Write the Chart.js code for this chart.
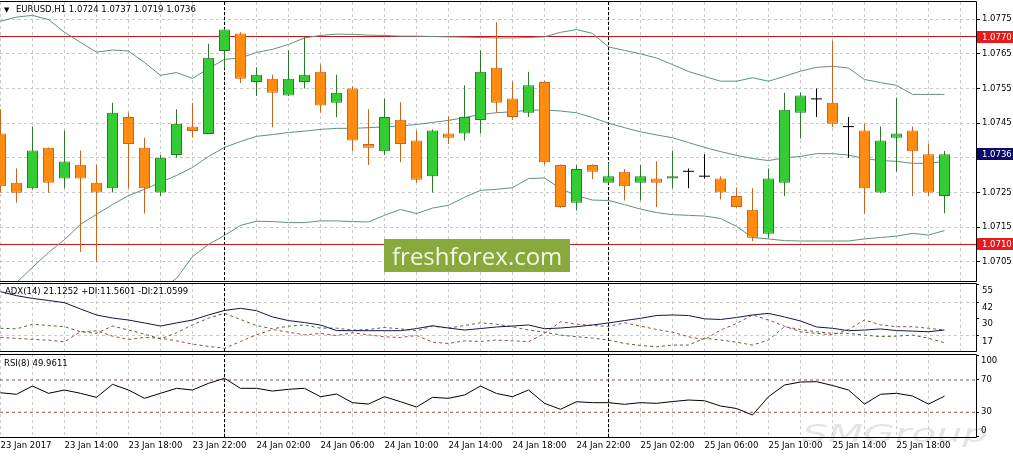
<!DOCTYPE html>
<html>
<head>
<meta charset="utf-8">
<script src="https://cdn.jsdelivr.net/npm/chart.js@4.4.1/dist/chart.umd.min.js"></script>
<style>
  html, body { margin: 0; padding: 0; background: #fff; }
  #wrap { position: relative; width: 1013px; height: 457px; overflow: hidden; background: #fff; }
  canvas { position: absolute; left: 0; }
</style>
</head>
<body>
<div id="wrap">
  <canvas id="priceChart" width="1013" height="282" style="top:0px"></canvas>
  <canvas id="adxChart" width="1013" height="69" style="top:283px"></canvas>
  <canvas id="rsiChart" width="1013" height="103" style="top:354px"></canvas>
</div>
<script>
// EURUSD H1, 23 Jan 10:00 .. 25 Jan 21:00 (one entry per bar)
const open = [1.0742, 1.07278, 1.07262, 1.07379, 1.0729, 1.0733, 1.07278, 1.07262, 1.07468, 1.07379,
  1.0725, 1.07358, 1.0744, 1.07419, 1.07658, 1.07709, 1.07569, 1.07578, 1.0753, 1.07569,
  1.07598, 1.07509, 1.0755, 1.0739, 1.07369, 1.0746, 1.074, 1.07297, 1.0742, 1.0742,
  1.07459, 1.0761, 1.07521, 1.0748, 1.07569, 1.07329, 1.0722, 1.07329, 1.07278, 1.0731,
  1.07278, 1.0729, 1.0729, 1.07311, 1.07297, 1.0729, 1.0724, 1.072, 1.07131, 1.07278,
  1.0748, 1.0752, 1.07509, 1.0744, 1.07429, 1.0725, 1.07408, 1.07429, 1.0736, 1.0724];
const high = [1.0749, 1.07319, 1.0744, 1.0738, 1.07429, 1.07371, 1.0733, 1.07509, 1.0748, 1.07408,
  1.07358, 1.0749, 1.07509, 1.07679, 1.07722, 1.07712, 1.07611, 1.0759, 1.0766, 1.077,
  1.07619, 1.0759, 1.07557, 1.0749, 1.07521, 1.0751, 1.07429, 1.07432, 1.0747, 1.07559,
  1.0766, 1.07741, 1.07571, 1.07598, 1.07572, 1.07331, 1.07329, 1.07331, 1.07336, 1.07318,
  1.07329, 1.0734, 1.07371, 1.07319, 1.0736, 1.07297, 1.07264, 1.07262, 1.07319, 1.07538,
  1.07538, 1.0755, 1.07688, 1.07468, 1.07448, 1.0744, 1.07523, 1.0744, 1.07391, 1.0737];
const low = [1.0725, 1.0722, 1.07259, 1.07249, 1.07262, 1.07079, 1.0705, 1.0725, 1.07262, 1.07189,
  1.0724, 1.0735, 1.07408, 1.07419, 1.07608, 1.07566, 1.07528, 1.07438, 1.07528, 1.0755,
  1.0748, 1.07467, 1.07369, 1.07329, 1.07358, 1.07337, 1.07278, 1.0725, 1.0739, 1.074,
  1.0742, 1.0748, 1.0746, 1.07468, 1.0733, 1.07206, 1.07198, 1.07288, 1.07276, 1.07227,
  1.07227, 1.07208, 1.07262, 1.07262, 1.0729, 1.0723, 1.07206, 1.0711, 1.07119, 1.0724,
  1.07406, 1.07468, 1.07438, 1.0735, 1.07189, 1.07248, 1.0731, 1.0724, 1.0724, 1.0719];
const close = [1.07268, 1.07249, 1.07371, 1.07278, 1.07339, 1.0729, 1.0725, 1.0748, 1.0739, 1.07262,
  1.0735, 1.07448, 1.07427, 1.07639, 1.0772, 1.07578, 1.0759, 1.07538, 1.07578, 1.0759,
  1.07501, 1.07538, 1.074, 1.07379, 1.07468, 1.0739, 1.07287, 1.07429, 1.07408, 1.07468,
  1.07598, 1.07509, 1.07468, 1.07559, 1.07337, 1.07208, 1.07318, 1.0731, 1.07297, 1.07268,
  1.07297, 1.07278, 1.07297, 1.07311, 1.07297, 1.0725, 1.07208, 1.07119, 1.0729, 1.07489,
  1.0753, 1.0752, 1.07448, 1.0744, 1.07262, 1.074, 1.0742, 1.07369, 1.0725, 1.0736];

const bbUpper = [1.07744, 1.07756, 1.07761, 1.07749, 1.07712, 1.07683, 1.07655, 1.07661, 1.07658, 1.07625,
  1.07588, 1.07596, 1.07579, 1.07608, 1.07634, 1.07638, 1.07654, 1.07663, 1.07677, 1.07696,
  1.07703, 1.07707, 1.07706, 1.07704, 1.07703, 1.07701, 1.07701, 1.077, 1.07699, 1.07698,
  1.07697, 1.07696, 1.07696, 1.07697, 1.07699, 1.07712, 1.0772, 1.07709, 1.0767, 1.0766,
  1.0765, 1.07638, 1.07619, 1.07599, 1.07585, 1.07571, 1.07571, 1.07581, 1.07571, 1.07585,
  1.076, 1.07611, 1.07614, 1.07609, 1.07576, 1.07567, 1.07559, 1.07533, 1.07533, 1.07533];
const bbMiddle = [1.06956, 1.0699, 1.07034, 1.07077, 1.07114, 1.07158, 1.07187, 1.07215, 1.07241, 1.07259,
  1.07279, 1.07299, 1.07322, 1.07354, 1.0738, 1.07397, 1.07412, 1.07417, 1.07423, 1.07427,
  1.07432, 1.07435, 1.07435, 1.07437, 1.07439, 1.07442, 1.07446, 1.07452, 1.07458, 1.07466,
  1.07475, 1.0748, 1.07483, 1.07487, 1.07488, 1.07485, 1.0748, 1.07466, 1.0745, 1.07437,
  1.07425, 1.07416, 1.07408, 1.07394, 1.0738, 1.07368, 1.07357, 1.07348, 1.07342, 1.0735,
  1.07354, 1.07362, 1.07362, 1.07358, 1.07348, 1.07342, 1.0734, 1.07334, 1.07334, 1.0734];
const bbLower = [1.06168, 1.06224, 1.06307, 1.06405, 1.06517, 1.06633, 1.06718, 1.0677, 1.06826, 1.06892,
  1.0697, 1.07002, 1.07065, 1.071, 1.07126, 1.07155, 1.07167, 1.07166, 1.07163, 1.07163,
  1.07168, 1.07168, 1.07166, 1.07165, 1.07184, 1.07201, 1.07189, 1.07205, 1.07213, 1.07236,
  1.07256, 1.07259, 1.07264, 1.0729, 1.07292, 1.07261, 1.07241, 1.07228, 1.07227, 1.07215,
  1.07202, 1.07192, 1.07186, 1.07184, 1.07182, 1.07175, 1.07152, 1.0712, 1.07116, 1.07111,
  1.0711, 1.0711, 1.0711, 1.0711, 1.07116, 1.0712, 1.07124, 1.07132, 1.07127, 1.0714];

const adx = [49.9, 46.9, 44.8, 43.3, 41.6, 36.9, 32.4, 30.1, 28.6, 26.4,
  24.1, 26.4, 28.6, 32.4, 35.8, 37.4, 35.6, 30.9, 28.2, 26.7,
  24.9, 20.7, 20.6, 20.6, 20.6, 20.6, 22.2, 24.3, 22.6, 21.1,
  22.2, 23.4, 24.1, 24.9, 22.1, 22.6, 23.6, 24.9, 26.4, 28.2,
  29.9, 32.0, 32.4, 32.0, 29.5, 29.0, 30.5, 32.4, 33.6, 30.9,
  27.9, 23.4, 22.4, 20.6, 21.1, 21.9, 20.7, 20.3, 19.8, 21.1252];
const plusDI = [22.4, 22.0, 25.4, 24.5, 23.6, 19.8, 18.6, 24.1, 21.1, 18.0,
  14.5, 19.0, 25.0, 30.0, 33.6, 29.0, 24.5, 22.0, 24.0, 24.9,
  22.5, 22.5, 21.0, 21.5, 23.0, 22.0, 20.5, 24.0, 22.5, 24.5,
  26.5, 25.5, 23.5, 21.1, 19.5, 17.3, 16.1, 15.0, 13.6, 11.0,
  9.5, 8.5, 9.8, 9.8, 14.9, 13.6, 12.0, 9.8, 13.6, 23.6,
  21.5, 19.8, 18.6, 18.6, 17.3, 16.1, 16.5, 17.3, 14.9, 11.5601];
const minusDI = [15.6, 14.8, 14.1, 13.5, 12.3, 19.8, 20.5, 16.5, 14.0, 15.5,
  15.0, 13.0, 10.5, 8.8, 7.4, 12.5, 17.5, 21.5, 19.5, 17.5,
  18.5, 17.0, 19.0, 17.5, 16.0, 15.5, 17.0, 12.0, 11.0, 13.0,
  12.5, 13.6, 13.0, 12.3, 18.6, 27.3, 25.5, 24.5, 23.8, 26.5,
  24.0, 21.5, 19.5, 16.0, 14.0, 21.0, 26.0, 32.4, 28.6, 24.0,
  19.8, 18.6, 17.5, 21.5, 28.6, 25.0, 23.6, 23.6, 22.4, 21.0599];
const rsi = [54.2, 52.3, 62.5, 53.5, 57.6, 53.5, 48.5, 64.6, 57.6, 47.3,
  53.5, 59.7, 57.6, 65.9, 72.1, 59.7, 59.7, 56.3, 58.5, 59.7,
  49.3, 52.6, 41.9, 40.2, 49.3, 43.1, 36.5, 48.5, 47.3, 51.4,
  62.5, 53.3, 49.3, 57.6, 41.1, 33.7, 43.1, 41.9, 41.9, 39.9,
  41.9, 41.1, 43.3, 45.2, 44.3, 37.8, 34.7, 26.6, 49.3, 63.8,
  67.5, 67.9, 63.2, 57.6, 40.2, 52.3, 53.5, 50.2, 40.2, 49.9611];

// one time label every 4 bars
const timeLabels = ['23 Jan 2017', '23 Jan 14:00', '23 Jan 18:00', '23 Jan 22:00', '24 Jan 02:00',
  '24 Jan 06:00', '24 Jan 10:00', '24 Jan 14:00', '24 Jan 18:00', '24 Jan 22:00',
  '25 Jan 02:00', '25 Jan 06:00', '25 Jan 10:00', '25 Jan 14:00', '25 Jan 18:00'];
const priceTicks = [1.0705, 1.0715, 1.0725, 1.0735, 1.0745, 1.0755, 1.0765, 1.0775];
const levelLines = [1.0770, 1.0710];
const adxTicks = [55, 42, 30, 17];
const adxGridLevels = [42, 17];
const rsiTicks = [100, 70, 30, 0];
const rsiLevels = [70, 30];
const daySeparators = [14, 38]; // first bar of 24 Jan and 25 Jan

const FONT = '"DejaVu Sans", sans-serif';
const gridGray = '#c8c8c8';
const gridDash = [3, 3];
const bullFill = '#33cc33', bullLine = '#2a7a2a';
const bearFill = '#ff8c10', bearLine = '#c8641e';
const bandColor = '#5f9085';
const levelRed = '#c81414';

const bars = open.map((_, i) => i);
const gridBars = [];
for (let i = 0; i <= 60; i += 2) gridBars.push(i);
const xMin = -1 / 32, xMax = 61 - 1 / 32;
const last = bars.length - 1;

function xAxis(showLabels) {
  return {
    type: 'linear', min: xMin, max: xMax, offset: false,
    afterBuildTicks: s => { s.ticks = gridBars.map(v => ({ value: v })); },
    afterFit: s => { s.height = showLabels ? 20 : 0; s.paddingLeft = 0; s.paddingRight = 0; },
    grid: { color: gridGray, drawTicks: false, offset: false },
    border: { display: false, dash: gridDash },
    ticks: showLabels ? {
      autoSkip: false, maxRotation: 0, align: 'start', padding: 4, color: '#000',
      font: { family: FONT, size: 8.5 },
      callback: v => (v % 4 === 0 ? timeLabels[v / 4] : '')
    } : { display: false }
  };
}

function yAxisFit(s) { s.width = 37; s.paddingTop = 0; s.paddingBottom = 0; }

function series(values, color, dash) {
  return {
    type: 'line', data: values.map((v, i) => ({ x: i, y: v })),
    borderColor: color, borderWidth: 1, borderDash: dash || [],
    pointRadius: 0, pointHoverRadius: 0, tension: 0, fill: false, order: 3
  };
}

function hLine(value, color, dash) {
  return {
    type: 'line', data: [{ x: xMin, y: value }, { x: xMax, y: value }],
    borderColor: color, borderWidth: 1, borderDash: dash || [],
    pointRadius: 0, pointHoverRadius: 0, fill: false, order: 5
  };
}

function frame(chart) {
  const { ctx, chartArea: a } = chart;
  const top = Math.max(a.top - 0.5, 0.5);
  const bottom = Math.min(a.bottom + 0.5, chart.height - 0.5);
  ctx.save();
  ctx.strokeStyle = '#000';
  ctx.lineWidth = 1;
  ctx.beginPath();
  ctx.moveTo(0, top); ctx.lineTo(a.right + 0.5, top);
  ctx.lineTo(a.right + 0.5, bottom); ctx.lineTo(0, bottom);
  ctx.stroke();
  ctx.restore();
}

const separators = {
  id: 'separators',
  beforeDatasetsDraw(chart) {
    const { ctx, chartArea: a, scales: { x } } = chart;
    ctx.save();
    ctx.strokeStyle = '#000';
    ctx.lineWidth = 1;
    ctx.setLineDash([3, 2]);
    daySeparators.forEach(d => {
      const px = Math.round(x.getPixelForValue(d) - 0.5) + 0.5;
      ctx.beginPath(); ctx.moveTo(px, a.top); ctx.lineTo(px, a.bottom); ctx.stroke();
    });
    ctx.restore();
  }
};

const common = {
  responsive: false, animation: false, events: [],
  plugins: { legend: { display: false }, tooltip: { enabled: false } }
};

// ---------- price window ----------
const bodyBars = bars.filter(i => open[i] !== close[i]);
const dojiBars = bars.filter(i => open[i] === close[i]);
const boxValues = [...levelLines, close[last]];
const halfPx = 0.5 / 34658; // keeps the level lines on whole pixel rows

new Chart(document.getElementById('priceChart'), {
  type: 'line',
  data: {
    datasets: [
      {
        type: 'bar', data: bodyBars.map(i => ({ x: i, y: [open[i], close[i]] })),
        backgroundColor: bodyBars.map(i => close[i] > open[i] ? bullFill : bearFill),
        borderColor: bodyBars.map(i => close[i] > open[i] ? bullLine : bearLine),
        borderWidth: 1, borderSkipped: false, barThickness: 11, grouped: false, inflateAmount: 0, order: 1
      },
      {
        type: 'line', data: dojiBars.map(i => ({ x: i, y: close[i] })), showLine: false,
        pointStyle: 'line', pointRadius: 5.5, pointHoverRadius: 5.5, pointBorderColor: '#000', pointBorderWidth: 1, order: 1
      },
      {
        type: 'bar', data: bars.map(i => ({ x: i, y: [low[i], high[i]] })),
        backgroundColor: bars.map(i => open[i] === close[i] ? '#000' : close[i] > open[i] ? bullLine : bearLine),
        borderWidth: 0, barThickness: 1, grouped: false, inflateAmount: 0, order: 2
      },
      series(bbUpper, bandColor), series(bbMiddle, bandColor), series(bbLower, bandColor),
      ...levelLines.map(v => hLine(v, levelRed))
    ]
  },
  options: {
    ...common,
    layout: { autoPadding: false, padding: { top: 2, bottom: 1, left: 0, right: 0 } },
    scales: {
      x: xAxis(false),
      y: {
        position: 'right', min: 1.06996 - halfPx, max: 1.07801 - halfPx,
        afterBuildTicks: s => { s.ticks = priceTicks.map(v => ({ value: v })); },
        afterFit: yAxisFit,
        grid: { color: gridGray, tickColor: '#000', tickLength: 4 },
        border: { display: false, dash: gridDash },
        ticks: {
          color: '#000', padding: 2, font: { family: FONT, size: 8.5 },
          callback: v => boxValues.some(b => Math.abs(b - v) < 0.0003) ? '' : v.toFixed(4)
        }
      }
    }
  },
  plugins: [separators, {
    id: 'priceDecor',
    afterDraw(chart) {
      const { ctx, chartArea: a, scales: { y } } = chart;
      frame(chart);
      ctx.save();
      // price boxes on the axis
      ctx.font = '8.5px ' + FONT;
      ctx.textBaseline = 'middle';
      const box = (v, bg) => {
        const py = Math.round(y.getPixelForValue(v));
        ctx.fillStyle = bg;
        ctx.fillRect(a.right + 1, py - 6, chart.width - a.right - 1, 12);
        ctx.fillStyle = '#fff';
        ctx.fillText(v.toFixed(4), a.right + 6, py + 0.5);
      };
      levelLines.forEach(v => box(v, '#e41b1b'));
      box(close[last], '#0a0a6e');
      // header
      ctx.fillStyle = '#000';
      ctx.font = '7px ' + FONT;
      ctx.fillText('\u25BC', 4, 10);
      ctx.font = '8.5px ' + FONT;
      ctx.fillText('EURUSD,H1 ' + [open[last], high[last], low[last], close[last]].map(v => v.toFixed(4)).join(' '), 16, 10);
      // watermark
      ctx.fillStyle = '#89a93d';
      ctx.fillRect(384, 239, 186, 33);
      ctx.fillStyle = '#f2f7e8';
      ctx.font = '24px "Open Sans", sans-serif';
      ctx.textBaseline = 'alphabetic';
      ctx.fillText('freshforex.com', 392, 265);
      ctx.restore();
    }
  }]
});

// ---------- ADX window ----------
new Chart(document.getElementById('adxChart'), {
  type: 'line',
  data: {
    datasets: [
      series(adx, '#141450'),
      series(plusDI, '#4a6a3a', [3, 3]),
      series(minusDI, '#9a4a3a', [3, 3])
    ]
  },
  options: {
    ...common,
    layout: { autoPadding: false, padding: 0 },
    scales: {
      x: xAxis(false),
      y: {
        position: 'right', min: 4.6, max: 56.4,
        afterBuildTicks: s => { s.ticks = adxTicks.map(v => ({ value: v })); },
        afterFit: yAxisFit,
        grid: { color: c => adxGridLevels.includes(c.tick && c.tick.value) ? gridGray : 'rgba(0,0,0,0)', tickColor: '#000', tickLength: 3 },
        border: { display: false, dash: gridDash },
        ticks: { color: '#000', padding: 3, labelOffset: 6, font: { family: FONT, size: 8.5 }, callback: v => String(v) }
      }
    }
  },
  plugins: [separators, {
    id: 'adxDecor',
    afterDraw(chart) {
      const { ctx } = chart;
      frame(chart);
      ctx.save();
      ctx.fillStyle = '#000';
      ctx.font = '8.5px ' + FONT;
      ctx.textBaseline = 'middle';
      ctx.fillText('ADX(14) ' + adx[last].toFixed(4) + ' +DI:' + plusDI[last].toFixed(4) + ' -DI:' + minusDI[last].toFixed(4), 5, 8.5);
      ctx.restore();
    }
  }]
});

// ---------- RSI window ----------
new Chart(document.getElementById('rsiChart'), {
  type: 'line',
  data: {
    datasets: [
      series(rsi, '#000'),
      ...rsiLevels.map(v => hLine(v, '#9b4d4d', [3, 3]))
    ]
  },
  options: {
    ...common,
    layout: { autoPadding: false, padding: 0 },
    scales: {
      x: xAxis(true),
      y: {
        position: 'right', min: -0.6, max: 102.2,
        afterBuildTicks: s => { s.ticks = rsiTicks.map(v => ({ value: v })); },
        afterFit: yAxisFit,
        grid: { drawOnChartArea: false, tickColor: '#000', tickLength: 3 },
        border: { display: false },
        ticks: { display: false }
      }
    }
  },
  plugins: [separators, {
    id: 'rsiDecor',
    beforeDraw(chart) {
      const { ctx } = chart;
      ctx.save();
      ctx.fillStyle = '#e4e4e4';
      ctx.font = 'italic 24px "DejaVu Sans", sans-serif';
      ctx.textBaseline = 'alphabetic';
      ctx.translate(802, 88);
      ctx.scale(1.7, 1);
      ctx.fillText('SMGroup', 0, 0);
      ctx.restore();
    },
    afterDraw(chart) {
      const { ctx, chartArea: a, scales: { y } } = chart;
      frame(chart);
      ctx.save();
      ctx.fillStyle = '#000';
      ctx.font = '8.5px ' + FONT;
      ctx.textBaseline = 'middle';
      rsiTicks.forEach(v => {
        const py = Math.min(Math.max(y.getPixelForValue(v), a.top + 6.5), a.bottom - 6.5);
        ctx.fillText(String(v), a.right + 5, py);
      });
      ctx.fillText('RSI(8) ' + rsi[last].toFixed(4), 4, 9.5);
      ctx.restore();
    }
  }]
});
</script>
</body>
</html>
